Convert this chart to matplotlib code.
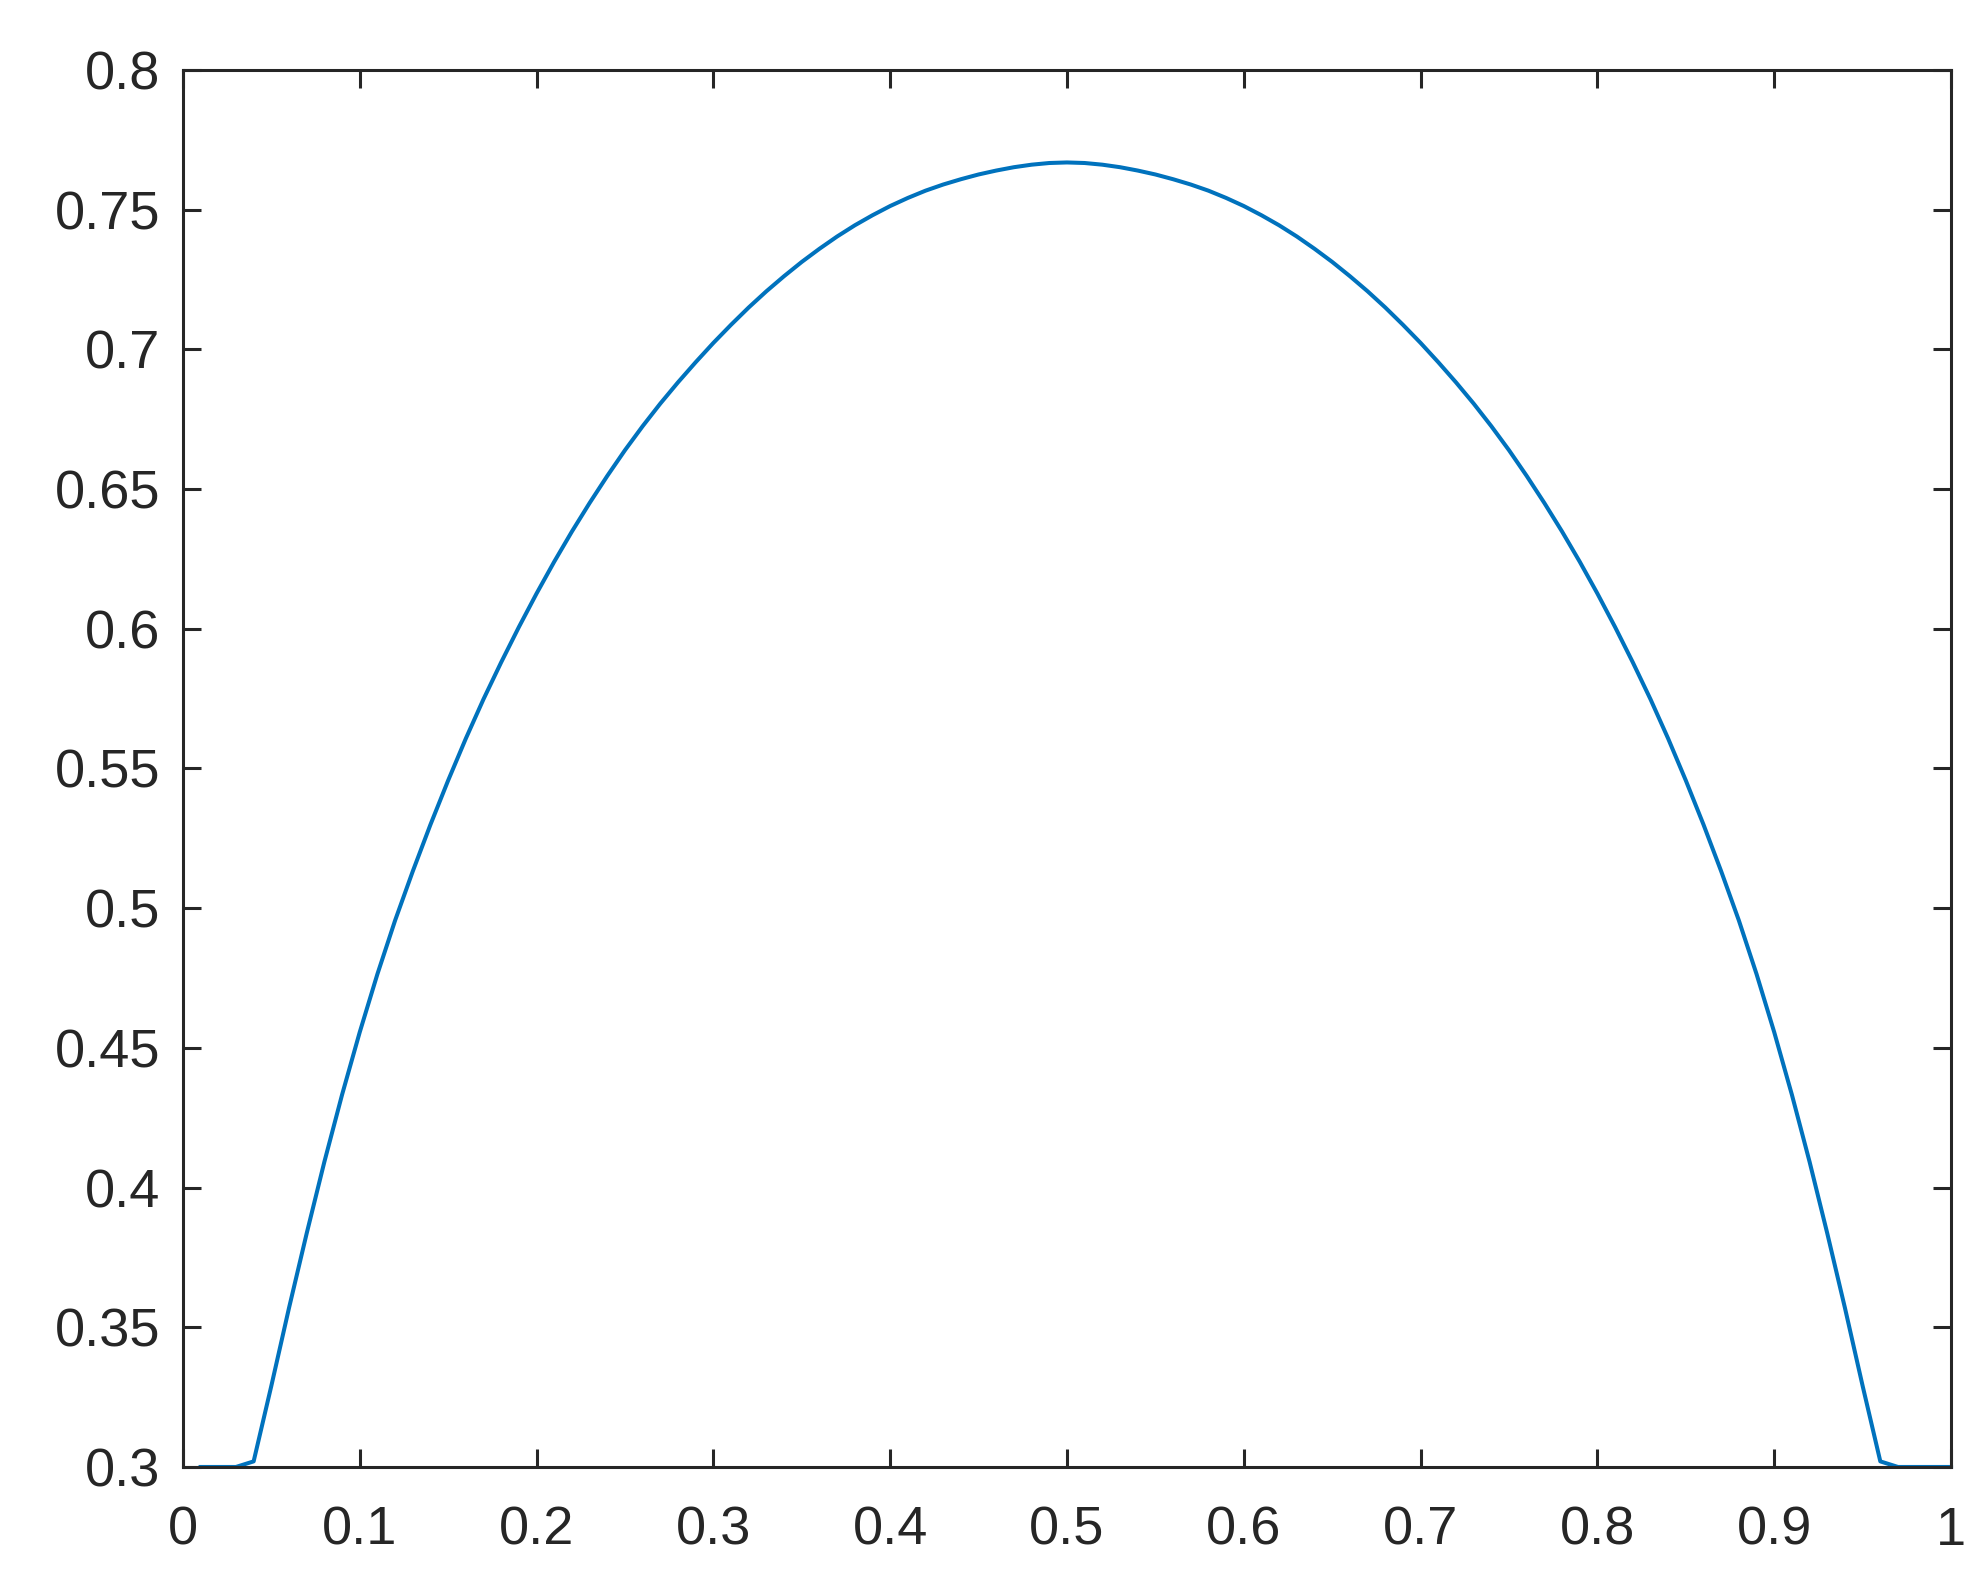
import matplotlib
matplotlib.use("Agg")
import matplotlib.pyplot as plt

# x-Raster: 0.01 bis 1.00 in Schritten von 0.01
x_werte = [i / 100 for i in range(1, 101)]

# y-Werte (Kurve symmetrisch um x = 0.5)
y_werte = [
    0.3000, 0.3000, 0.3000, 0.3020, 0.3290, 0.3569, 0.3836, 0.4092, 0.4332, 0.4556,  # 0.01-0.10
    0.4764, 0.4956, 0.5132, 0.5299, 0.5457, 0.5607, 0.5748, 0.5880, 0.6006, 0.6126,  # 0.11-0.20
    0.6240, 0.6348, 0.6450, 0.6547, 0.6639, 0.6725, 0.6806, 0.6882, 0.6954, 0.7023,  # 0.21-0.30
    0.7088, 0.7150, 0.7208, 0.7262, 0.7313, 0.7360, 0.7404, 0.7444, 0.7480, 0.7513,  # 0.31-0.40
    0.7542, 0.7568, 0.7590, 0.7609, 0.7626, 0.7640, 0.7652, 0.7661, 0.7667, 0.7669,  # 0.41-0.50
    0.7667, 0.7661, 0.7652, 0.7640, 0.7626, 0.7609, 0.7590, 0.7568, 0.7542, 0.7513,  # 0.51-0.60
    0.7480, 0.7444, 0.7404, 0.7360, 0.7313, 0.7262, 0.7208, 0.7150, 0.7088, 0.7023,  # 0.61-0.70
    0.6954, 0.6882, 0.6806, 0.6725, 0.6639, 0.6547, 0.6450, 0.6348, 0.6240, 0.6126,  # 0.71-0.80
    0.6006, 0.5880, 0.5748, 0.5607, 0.5457, 0.5299, 0.5132, 0.4956, 0.4764, 0.4556,  # 0.81-0.90
    0.4332, 0.4092, 0.3836, 0.3569, 0.3290, 0.3020, 0.3000, 0.3000, 0.3000, 0.3000,  # 0.91-1.00
]

x_ticks = [0, 0.1, 0.2, 0.3, 0.4, 0.5, 0.6, 0.7, 0.8, 0.9, 1]
x_labels = ["0", "0.1", "0.2", "0.3", "0.4", "0.5", "0.6", "0.7", "0.8", "0.9", "1"]
y_ticks = [0.3, 0.35, 0.4, 0.45, 0.5, 0.55, 0.6, 0.65, 0.7, 0.75, 0.8]
y_labels = ["0.3", "0.35", "0.4", "0.45", "0.5", "0.55", "0.6", "0.65", "0.7", "0.75", "0.8"]

dunkel = "#262626"
plt.rcParams['font.family'] = ['Liberation Sans', 'DejaVu Sans']

fig = plt.figure(figsize=(19.86, 15.83), dpi=100)
ax = fig.add_axes([0.0921, 0.0733, 0.8903, 0.8825])

ax.plot(x_werte, y_werte, color="#0072BD", linewidth=2.9, clip_on=False, zorder=3)

ax.set_xlim(0, 1)
ax.set_ylim(0.3, 0.8)
ax.set_xticks(x_ticks)
ax.set_xticklabels(x_labels)
ax.set_yticks(y_ticks)
ax.set_yticklabels(y_labels)

for s in ax.spines.values():
    s.set_color(dunkel)
    s.set_linewidth(2.2)
    s.set_zorder(4)

ax.tick_params(axis="both", direction="in", length=13, width=2.2, color=dunkel,
               labelcolor=dunkel, labelsize=39, top=True, right=True)
ax.tick_params(axis="x", pad=28)
ax.tick_params(axis="y", pad=16)

fig.savefig("out.png", dpi=100, facecolor="white")
